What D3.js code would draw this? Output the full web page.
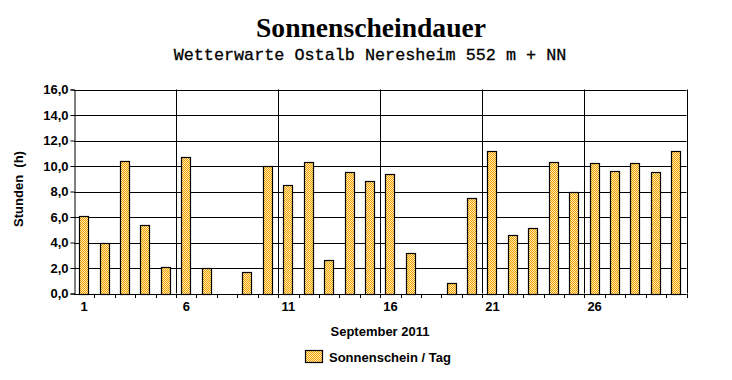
<!DOCTYPE html>
<html><head><meta charset="utf-8">
<script src="https://cdn.jsdelivr.net/npm/d3@7"></script>
<style>body{margin:0;background:#fff}svg{display:block}</style>
</head><body>
<svg id="c" width="732" height="380"></svg>
<script>
const days = d3.range(1, 31);
const sunshine = [6.1,4.0,10.4,5.4,2.1,10.7,2.0,0,1.7,10.0,8.5,10.3,2.6,9.5,8.8,9.4,3.2,0,0.8,7.5,11.15,4.6,5.1,10.3,8.0,10.2,9.6,10.2,9.5,11.15];
const yTicks = [0,2,4,6,8,10,12,14,16];
const xLabelDays = [1,6,11,16,21,26];
const title = "Sonnenscheindauer";
const subtitle = "Wetterwarte Ostalb Neresheim 552 m + NN";
const yTitle = "Stunden  (h)";
const xTitle = "September 2011";
const legendLabel = "Sonnenschein / Tag";

const svg = d3.select("#c");
const L = 74, R = 686.5, T = 89.5, B = 293.5;
const sans = "Liberation Sans, Arial";

const defs = svg.append("defs");
const pat = defs.append("pattern").attr("id","chk").attr("width",2).attr("height",2).attr("patternUnits","userSpaceOnUse");
pat.append("rect").attr("width",2).attr("height",2).attr("fill","#FFEBA8");
pat.append("rect").attr("width",1).attr("height",1).attr("fill","#F5A000");
pat.append("rect").attr("x",1).attr("y",1).attr("width",1).attr("height",1).attr("fill","#F5A000");

const x = d3.scaleBand().domain(days).range([L, R]).paddingInner(0.5).paddingOuter(0.25);
const y = d3.scaleLinear().domain([0,16]).range([B, T]);
const step = x.step();
const bound = d => x(d) - step*0.25;

svg.append("g").selectAll("line").data(yTicks).join("line")
  .attr("x1", L).attr("x2", R).attr("y1", d=>Math.round(y(d))+0.5).attr("y2", d=>Math.round(y(d))+0.5)
  .attr("stroke","#000").attr("stroke-width",1);
const vb = [6,11,16,21,26];
svg.append("g").selectAll("line").data(vb).join("line")
  .attr("x1", d=>Math.round(bound(d))+0.5).attr("x2", d=>Math.round(bound(d))+0.5)
  .attr("y1", T).attr("y2", B).attr("stroke","#000");
svg.append("line").attr("x1",Math.round(R)+0.5).attr("x2",Math.round(R)+0.5).attr("y1",T).attr("y2",B).attr("stroke","#000");

svg.append("g").selectAll("rect").data(days.map((d,i)=>({d,v:sunshine[i]})).filter(o=>o.v>0)).join("rect")
  .attr("x", o=>Math.round(x(o.d))+0.5).attr("width", Math.round(x.bandwidth())-1)
  .attr("y", o=>Math.round(y(o.v))+0.5).attr("height", o=>Math.round(B)-Math.round(y(o.v)))
  .attr("fill","url(#chk)").attr("stroke","#000").attr("stroke-width",1.2);

const yAxis = svg.append("g").attr("transform",`translate(${Math.round(L)+0.5},0)`)
  .call(d3.axisLeft(y).tickValues(yTicks).tickSize(4).tickPadding(2).tickFormat(d=>d3.format(".1f")(d).replace(".",",")));
yAxis.select(".domain").attr("stroke","#000");
yAxis.selectAll("text").attr("font-family",sans).attr("font-weight","bold").attr("font-size","13px").attr("fill","#000");

svg.append("line").attr("x1",L).attr("x2",R).attr("y1",Math.round(B)+0.5).attr("y2",Math.round(B)+0.5).attr("stroke","#000");
svg.append("g").selectAll("line").data(days.slice(1).concat([31])).join("line")
  .attr("x1", d=> d<31 ? Math.round(bound(d))+0.5 : Math.round(R)+0.5)
  .attr("x2", d=> d<31 ? Math.round(bound(d))+0.5 : Math.round(R)+0.5)
  .attr("y1", Math.round(B)).attr("y2", Math.round(B)+4).attr("stroke","#000");

svg.append("g").selectAll("text").data(xLabelDays).join("text")
  .attr("x", d=>x(d)+x.bandwidth()/2).attr("y", 311).attr("text-anchor","middle")
  .attr("font-family",sans).attr("font-weight","bold").attr("font-size","13px").text(d=>d);

svg.append("text").attr("x",371).attr("y",37).attr("text-anchor","middle")
  .attr("font-family","Liberation Serif, Times New Roman").attr("font-weight","bold").attr("font-size","27px")
  .attr("textLength",230).attr("lengthAdjust","spacingAndGlyphs").text(title);
svg.append("text").attr("x",370).attr("y",60).attr("text-anchor","middle")
  .attr("font-family","Liberation Mono, Courier New").attr("font-size","16.8px").attr("stroke","#000").attr("stroke-width",0.3).text(subtitle);
svg.append("text").attr("transform","translate(23,189) rotate(-90)").attr("text-anchor","middle")
  .attr("font-family",sans).attr("font-weight","bold").attr("font-size","13px").attr("xml:space","preserve").text(yTitle);
svg.append("text").attr("x",380).attr("y",336).attr("text-anchor","middle")
  .attr("font-family",sans).attr("font-weight","bold").attr("font-size","13px").text(xTitle);

svg.append("rect").attr("x",305.5).attr("y",350.5).attr("width",17).attr("height",12).attr("fill","url(#chk)").attr("stroke","#000").attr("stroke-width",1.2);
svg.append("text").attr("x",329).attr("y",362).attr("font-family",sans).attr("font-weight","bold").attr("font-size","13px").text(legendLabel);
</script>
</body></html>
